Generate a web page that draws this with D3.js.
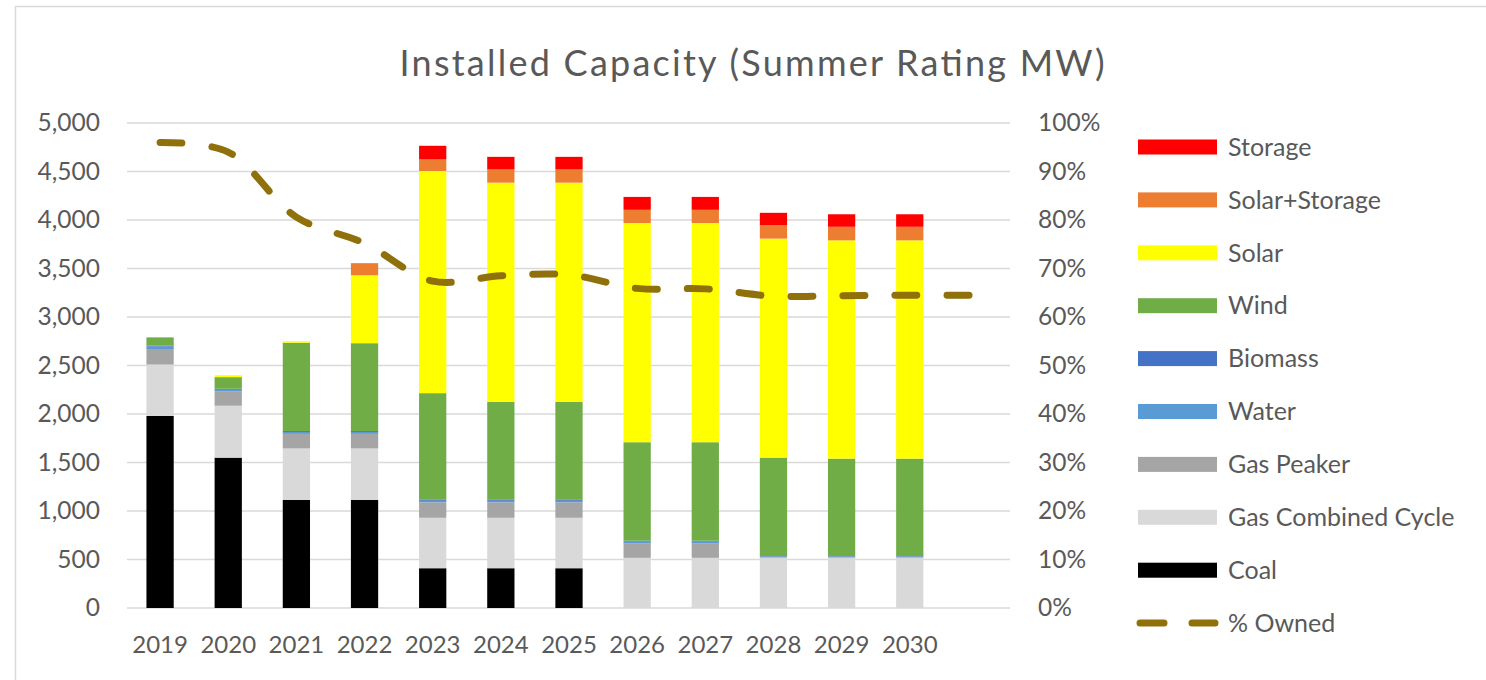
<!DOCTYPE html>
<html>
<head>
<meta charset="utf-8">
<script src="https://cdn.jsdelivr.net/npm/d3@7"></script>
<style>
  html, body { margin: 0; padding: 0; background: #fff; }
  svg { display: block; font-family: Lato, "Open Sans", sans-serif; }
</style>
</head>
<body>
<svg id="chart"></svg>
<script>
// Installed Capacity (Summer Rating MW) - stacked bars + % owned line

const years = ["2019", "2020", "2021", "2022", "2023", "2024", "2025",
               "2026", "2027", "2028", "2029", "2030", ""];

// MW by resource, one value per year (last category has no bar)
const coal         = [1980, 1550, 1115, 1115, 410, 410, 410,    0,    0,    0,    0,    0, 0];
const gasCC        = [ 530,  535,  530,  530, 520, 520, 520,  517,  517,  520,  520,  520, 0];
const gasPeaker    = [ 160,  150,  150,  150, 160, 160, 160,  147,  147,    0,    0,    0, 0];
const water        = [  25,   15,   20,   20,  15,  15,  15,   20,   20,   10,   10,   10, 0];
const biomass      = [  10,   10,   10,   10,  10,  10,  10,   10,   10,    5,    5,    5, 0];
const wind         = [  85,  120,  910,  905, 1100, 1010, 1010, 1015, 1015, 1015, 1005, 1005, 0];
const solar        = [   0,   20,   15,  700, 2290, 2260, 2260, 2260, 2260, 2258, 2250, 2250, 0];
const solarStorage = [   0,    0,    0,  125, 120,  136,  136,  136,  136,  140,  140,  140, 0];
const storage      = [   0,    0,    0,    0, 140,  130,  130,  133,  133,  126,  129,  129, 0];

// % owned (right axis)
const pctOwned = [96.0, 94.0, 80.6, 75.2, 67.4, 68.5, 68.7, 65.9, 65.8, 64.3, 64.4, 64.5, 64.5];

const seriesNames  = ["Coal", "Gas Combined Cycle", "Gas Peaker", "Water", "Biomass",
                      "Wind", "Solar", "Solar+Storage", "Storage"];
const seriesValues = [coal, gasCC, gasPeaker, water, biomass, wind, solar, solarStorage, storage];
const seriesColors = ["#000000", "#d9d9d9", "#a5a5a5", "#5b9bd5", "#4472c4",
                      "#70ad47", "#ffff00", "#ed7d31", "#ff0000"];

const leftTicks  = d3.range(0, 5001, 500);
const rightTicks = d3.range(0, 101, 10);

const width = 1486, height = 680;
const margin = {top: 123, right: 474, bottom: 72, left: 126};
const lineColor = "#8f700b";
const textColor = "#595959";

const svg = d3.select("#chart")
    .attr("width", width)
    .attr("height", height);

// chart frame
svg.append("rect")
    .attr("x", 15.5).attr("y", 6.5)
    .attr("width", 1600).attr("height", 800)
    .attr("fill", "#fff")
    .attr("stroke", "#d9d9d9")
    .attr("stroke-width", 1.5);

const x = d3.scaleBand()
    .domain(d3.range(years.length))
    .range([margin.left, 1012])
    .paddingInner(0.6)
    .paddingOuter(0.3);

const y = d3.scaleLinear()
    .domain([0, 5000])
    .range([608, margin.top]);

const y2 = d3.scaleLinear()
    .domain([0, 100])
    .range([608, margin.top]);

// gridlines
svg.append("g")
    .attr("stroke", "#d9d9d9")
    .attr("stroke-width", 1.5)
  .selectAll("line")
  .data(leftTicks)
  .join("line")
    .attr("x1", 127).attr("x2", 1010)
    .attr("y1", d => y(d)).attr("y2", d => y(d));

function styleTicks(g, size) {
  g.select(".domain").remove();
  g.selectAll("text")
      .attr("fill", textColor)
      .attr("font-size", size)
      .attr("font-family", "Lato, sans-serif");
}

// left axis
svg.append("g")
    .attr("transform", "translate(100,0)")
    .call(d3.axisLeft(y).tickValues(leftTicks).tickFormat(d3.format(",")).tickSize(0).tickPadding(0))
    .call(styleTicks, 24.5);

// right axis
svg.append("g")
    .attr("transform", "translate(1038,0)")
    .call(d3.axisRight(y2).tickValues(rightTicks).tickFormat(d => d + "%").tickSize(0).tickPadding(0))
    .call(styleTicks, 24.5);

// bottom axis labels
svg.append("g")
    .attr("transform", "translate(0,608)")
    .call(d3.axisBottom(x).tickFormat(i => years[i]).tickSize(0).tickPadding(28))
    .call(styleTicks, 24);

// stacked bars
const table = years.map((yr, i) => {
  const row = {i};
  seriesNames.forEach((n, k) => row[n] = seriesValues[k][i]);
  return row;
});
const stacked = d3.stack().keys(seriesNames)(table);

svg.append("g")
  .selectAll("g")
  .data(stacked)
  .join("g")
    .attr("fill", (d, k) => seriesColors[k])
  .selectAll("rect")
  .data(d => d)
  .join("rect")
    .attr("x", d => x(d.data.i))
    .attr("width", x.bandwidth())
    .attr("y", d => y(d[1]))
    .attr("height", d => Math.max(0, y(d[0]) - y(d[1])));

// % owned line
const line = d3.line()
    .x((d, i) => x(i) + x.bandwidth() / 2)
    .y(d => y2(d))
    .curve(d3.curveCatmullRom.alpha(0.5));

svg.append("path")
    .datum(pctOwned)
    .attr("fill", "none")
    .attr("stroke", lineColor)
    .attr("stroke-width", 7)
    .attr("stroke-linecap", "round")
    .attr("stroke-dasharray", "22,30")
    .attr("d", line);

// title
svg.append("text")
    .attr("x", 752)
    .attr("y", 76)
    .attr("text-anchor", "middle")
    .attr("fill", textColor)
    .attr("font-size", 36)
    .attr("font-family", "Lato, sans-serif")
    .attr("textLength", 705)
    .attr("lengthAdjust", "spacing")
    .text("Installed Capacity (Summer Rating MW)");

// legend
const legendItems = seriesNames.map((n, k) => ({name: n, color: seriesColors[k]})).reverse();
legendItems.push({name: "% Owned", color: lineColor, line: true});

const legend = svg.append("g")
  .selectAll("g")
  .data(legendItems)
  .join("g")
    .attr("transform", (d, i) => `translate(1138,${147 + i * 52.9})`);

legend.filter(d => !d.line).append("rect")
    .attr("x", 0).attr("y", -7.5)
    .attr("width", 79).attr("height", 15)
    .attr("fill", d => d.color);

legend.filter(d => d.line).append("line")
    .attr("x1", 2).attr("x2", 77)
    .attr("stroke", lineColor)
    .attr("stroke-width", 7)
    .attr("stroke-linecap", "round")
    .attr("stroke-dasharray", "24,28");

legend.append("text")
    .attr("x", 90)
    .attr("dy", "0.35em")
    .attr("fill", textColor)
    .attr("font-size", 25)
    .attr("font-family", "Lato, sans-serif")
    .text(d => d.name);
</script>
</body>
</html>
